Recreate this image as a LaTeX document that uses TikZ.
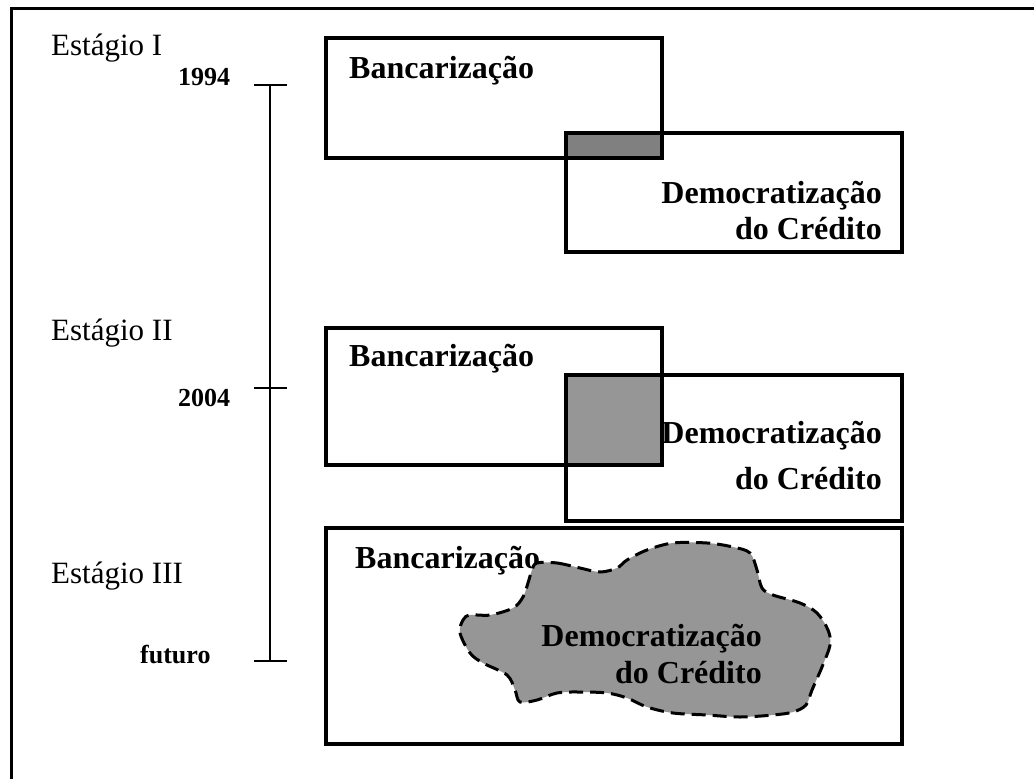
\documentclass[tikz,border=0pt]{standalone}
\usepackage{fontspec}
\setmainfont{Liberation Serif}
\definecolor{grayA}{RGB}{128,128,128}
\definecolor{grayB}{RGB}{150,150,150}
\begin{document}
\begin{tikzpicture}[x=1pt,y=-1pt,
  frameline/.style={line width=3pt},
  boxline/.style={draw, line width=3.3pt},
  stagelbl/.style={font=\fontsize{31}{35}\selectfont, inner sep=0, anchor=base west},
  yearlbl/.style={font=\bfseries\fontsize{26}{30}\selectfont, inner sep=0, anchor=base west},
  boxlbl/.style={font=\bfseries\fontsize{32}{37}\selectfont, inner sep=0, anchor=base west},
  demlbl/.style={font=\bfseries\fontsize{32}{#1}\selectfont, inner sep=0, anchor=base east, align=right},
  demlbl/.default=36,
  timeline/.style={line width=1.5pt},
  blobline/.style={line width=3pt, dash pattern=on 14pt off 7pt}
]
\useasboundingbox (0,0) rectangle (1034,779);
\fill[white] (0,0) rectangle (1034,779);

% outer frame (only top and left edges are visible)
\coordinate (fbl) at (11.5,790);
\coordinate (ftl) at (11.5,8.5);
\coordinate (ftr) at (1045,8.5);
\draw[frameline] (fbl) -- (ftl) -- (ftr);

% stage labels
\node[stagelbl] (s1) at (51,55) {Estágio I};
\node[stagelbl] (s2) at (51,340) {Estágio II};
\node[stagelbl] (s3) at (51,583) {Estágio III};

% timeline
\coordinate (t1) at (270,85);
\coordinate (t2) at (270,388);
\coordinate (t3) at (270,661);
\coordinate (t1l) at (254,85);  \coordinate (t1r) at (287,85);
\coordinate (t2l) at (254,388); \coordinate (t2r) at (287,388);
\coordinate (t3l) at (254,661); \coordinate (t3r) at (287,661);
\draw[timeline] (t1) -- (t2) -- (t3);
\draw[timeline] (t1l) -- (t1r);
\draw[timeline] (t2l) -- (t2r);
\draw[timeline] (t3l) -- (t3r);
\node[yearlbl] (y1) at (178,85) {1994};
\node[yearlbl] (y2) at (178,406) {2004};
\node[yearlbl] (y3) at (140,663) {futuro};

% Stage I
\fill[grayA] (566,133) rectangle (662,158);
\draw[boxline] (326,38) rectangle (662,158);
\draw[boxline] (566,133) rectangle (902,252);
\node[boxlbl] (b1) at (349,78) {Bancarização};
\node[demlbl=36] (d1) at (882,239) {Democratização\\do Crédito};

% Stage II
\fill[grayB] (566,375) rectangle (662,465);
\draw[boxline] (326,328) rectangle (662,465);
\draw[boxline] (566,375) rectangle (902,521);
\node[boxlbl] (b2) at (349,366) {Bancarização};
\node[demlbl=46] (d2) at (882,489) {Democratização\\do Crédito};

% Stage III
\draw[boxline] (326,528) rectangle (902,744);
\node[boxlbl] (b3) at (355,568) {Bancarização};
\filldraw[fill=grayB, draw=black, blobline] plot[smooth cycle, tension=0.55] coordinates {
 (537,563) (557,563) (580,568) (600,572) (617,568) (627,560) (647,550)
 (673,543) (707,543) (733,547) (750,553) (757,570) (762,588) (773,595)
 (800,603) (817,613) (828,630) (830,645) (822,667) (812,690) (806,705)
 (793,712) (773,715) (740,717) (707,715) (673,713) (647,707) (627,698)
 (607,693) (580,692) (557,693) (537,700) (520,702) (515,690) (507,675)
 (483,663) (470,653) (460,633) (463,620) (470,615) (490,615) (513,608)
 (523,597) (528,583) (532,570)};
\node[demlbl=37] (d3) at (762,683) {Democratização\\do Crédito};
\end{tikzpicture}
\end{document}
